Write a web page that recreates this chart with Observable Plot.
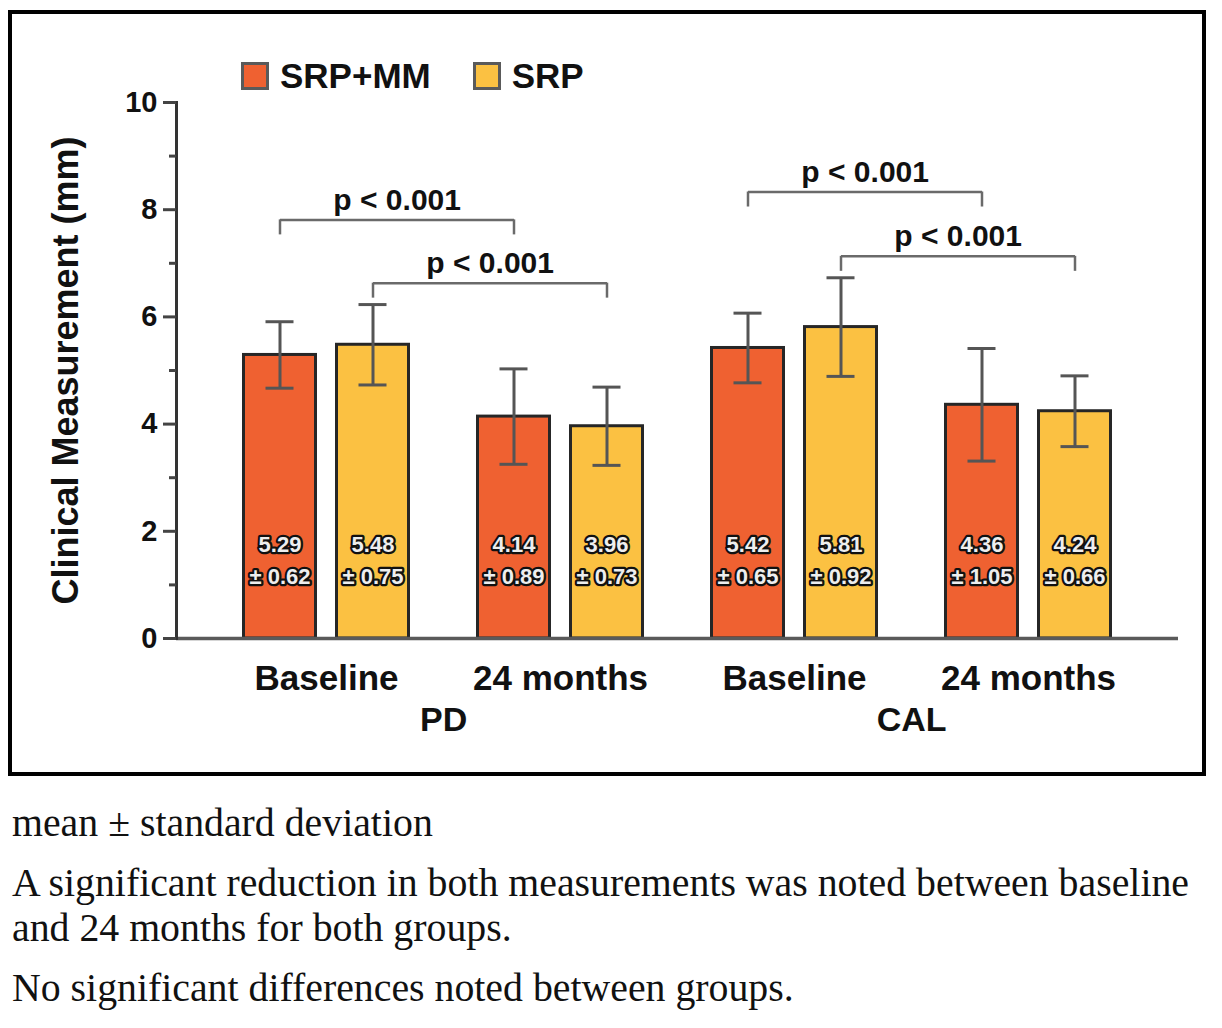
<!DOCTYPE html>
<html><head><meta charset="utf-8">
<script src="https://cdn.jsdelivr.net/npm/d3@7"></script>
<script src="https://cdn.jsdelivr.net/npm/@observablehq/plot@0.6"></script>
<style>
body{margin:0;background:#fff;width:1222px;height:1028px;position:relative;overflow:hidden}
#box{position:absolute;left:8px;top:10px;width:1198px;height:766px;border:4px solid #000;box-sizing:border-box;background:#fff}
#chart{position:absolute;left:0;top:0}
#legend{position:absolute;left:229px;top:48px;display:flex;align-items:center;font-family:"Liberation Sans",Arial,sans-serif;font-weight:bold;font-size:35px;color:#111;line-height:28px}
.sw{width:28px;height:28px;box-sizing:border-box;border:3px solid #5a5a5a;margin-right:11px}
.item{display:flex;align-items:center;margin-right:42px}
.item span{display:inline-block}
.cap{position:absolute;left:12px;font-family:"Liberation Serif","Times New Roman",serif;font-size:39.8px;line-height:1;white-space:nowrap;color:#111}
</style></head><body>
<div id="box"><div id="chart"></div><div id="legend"></div></div>
<div class="cap" id="c1" style="top:804px"></div>
<div class="cap" id="c2" style="top:864px"></div>
<div class="cap" id="c3" style="top:909px"></div>
<div class="cap" id="c4" style="top:969px"></div>
<script>
const measures = ["PD", "CAL"];
const times = ["Baseline", "24 months"];
const series = ["SRP+MM", "SRP"];
const seriesColors = ["#EF6131", "#FBC142"];
// order: PD Baseline, PD 24 months, CAL Baseline, CAL 24 months
const srpmmMean = [5.29, 4.14, 5.42, 4.36];
const srpmmSD = [0.62, 0.89, 0.65, 1.05];
const srpMean = [5.48, 3.96, 5.81, 4.24];
const srpSD = [0.75, 0.73, 0.92, 0.66];
const yTicks = [0, 2, 4, 6, 8, 10];
const yMinorTicks = [1, 3, 5, 7, 9];
const bracketMeasure = ["PD", "PD", "CAL", "CAL"];
const bracketSeries = ["SRP+MM", "SRP", "SRP+MM", "SRP"];
const bracketLevel = [7.81, 6.63, 8.33, 7.13];
const bracketText = ["p < 0.001", "p < 0.001", "p < 0.001", "p < 0.001"];
const yLabel = "Clinical Measurement (mm)";
const captionLines = [
  "mean ± standard deviation",
  "A significant reduction in both measurements was noted between baseline",
  "and 24 months for both groups.",
  "No significant differences noted between groups."
];

const key = (m, t) => m + "|" + t;
const keys = measures.flatMap(m => times.map(t => key(m, t)));
const rows = [];
measures.forEach((m, i) => times.forEach((t, j) => {
  const k = i * 2 + j;
  rows.push({measure: m, time: t, key: key(m, t), series: series[0], mean: srpmmMean[k], sd: srpmmSD[k]});
  rows.push({measure: m, time: t, key: key(m, t), series: series[1], mean: srpMean[k], sd: srpSD[k]});
}));
const brackets = bracketMeasure.map((m, i) => ({measure: m, series: bracketSeries[i], level: bracketLevel[i], label: bracketText[i],
  from: key(m, times[0]), to: key(m, times[1])}));

const font = "'Liberation Sans', Arial, sans-serif";
const W = 1190, H = 757, ML = 164, MR = 24, MT = 88, MB = 133;
const padIn = 0.283, padOut = 0.2798;
const step = (W - ML - MR) / (keys.length - padIn + 2 * padOut);
const half = 46.5;   // pixel offset of each series bar centre from its band centre
const legDepth = 0.28;
const lineCol = "#6a6a6a";

const perSeries = series.flatMap((s, si) => {
  const d = rows.filter(r => r.series === s);
  const dx = si === 0 ? -half : half;
  const b = brackets.filter(r => r.series === s);
  const legs = b.flatMap(r => [{...r, at: r.from}, {...r, at: r.to}]);
  const caps = d.flatMap(r => [{...r, v: r.mean - r.sd}, {...r, v: r.mean + r.sd}]);
  return [
    Plot.barY(d, {x: "key", y: "mean", fill: seriesColors[si], stroke: "#262626", strokeWidth: 3,
      insetLeft: si === 0 ? 1.5 : 94.5, insetRight: si === 0 ? 94.5 : 1.5}),
    Plot.ruleX(d, {x: "key", y1: r => r.mean - r.sd, y2: r => r.mean + r.sd, dx, stroke: "#555", strokeWidth: 3}),
    Plot.tickY(caps, {x: "key", y: "v", dx, insetLeft: 70, insetRight: 70, stroke: "#555", strokeWidth: 3}),
    Plot.text(d, {x: "key", frameAnchor: "bottom", text: r => `${r.mean.toFixed(2)}\n± ${r.sd.toFixed(2)}`,
      dx, dy: -81, lineAnchor: "middle", lineHeight: 1.45, fontSize: 22, fontWeight: "bold", fontFamily: font,
      fill: "#eee", stroke: "#111", strokeWidth: 4.5}),
    Plot.link(b, {x1: "from", x2: "to", y1: "level", y2: "level", dx, stroke: lineCol, strokeWidth: 2.5}),
    Plot.ruleX(legs, {x: "at", y1: "level", y2: r => r.level - legDepth, dx, stroke: lineCol, strokeWidth: 2.5}),
    Plot.text(b, {x: "from", y: "level", text: "label", dx: dx + step / 2, dy: -10, lineAnchor: "bottom", fontSize: 30, fontWeight: "bold", fontFamily: font, fill: "#111"})
  ];
});

const chart = Plot.plot({
  width: W, height: H,
  marginLeft: ML, marginRight: MR, marginTop: MT, marginBottom: MB,
  style: {fontFamily: font, background: "transparent", overflow: "visible", color: "#111"},
  x: {domain: keys, paddingInner: padIn, paddingOuter: padOut, axis: null},
  y: {domain: [0, 10], axis: null},
  marks: [
    ...perSeries,
    Plot.ruleY([0], {stroke: "#5a5a5a", strokeWidth: 3.5}),
    Plot.frame({anchor: "left", stroke: "#333", strokeWidth: 3}),
    Plot.axisY({ticks: yTicks, tickSize: 13, tickPadding: 6, tickFormat: d => String(d), fontSize: 29, fontWeight: "bold", fontFamily: font, stroke: "#444", strokeWidth: 3, fill: "#111", label: null}),
    Plot.axisY({ticks: yMinorTicks, tickSize: 7, text: null, stroke: "#444", strokeWidth: 3, label: null}),
    Plot.text([yLabel], {frameAnchor: "left", rotate: -90, dx: -110, textAnchor: "middle", lineAnchor: "middle", fontSize: 36, fontWeight: "bold", fontFamily: font, fill: "#111"}),
    Plot.axisX({anchor: "bottom", tickSize: 0, tickPadding: 27, tickFormat: k => k.split("|")[1], fontSize: 35, fontWeight: "bold", fontFamily: font, fill: "#111", label: null}),
    Plot.axisX({anchor: "bottom", ticks: measures.map(m => key(m, times[0])), tickSize: 0, tickPadding: 68, dx: step / 2, tickFormat: k => k.split("|")[0], fontSize: 34, fontWeight: "bold", fontFamily: font, fill: "#111", label: null})
  ]
});
document.getElementById("chart").appendChild(chart);

const legend = document.getElementById("legend");
series.forEach((s, i) => {
  const it = document.createElement("div");
  it.className = "item";
  const sw = document.createElement("div");
  sw.className = "sw";
  sw.style.background = seriesColors[i];
  const lab = document.createElement("span");
  lab.textContent = s;
  it.appendChild(sw); it.appendChild(lab);
  legend.appendChild(it);
});
captionLines.forEach((t, i) => { document.getElementById("c" + (i + 1)).textContent = t; });
</script>
</body></html>
